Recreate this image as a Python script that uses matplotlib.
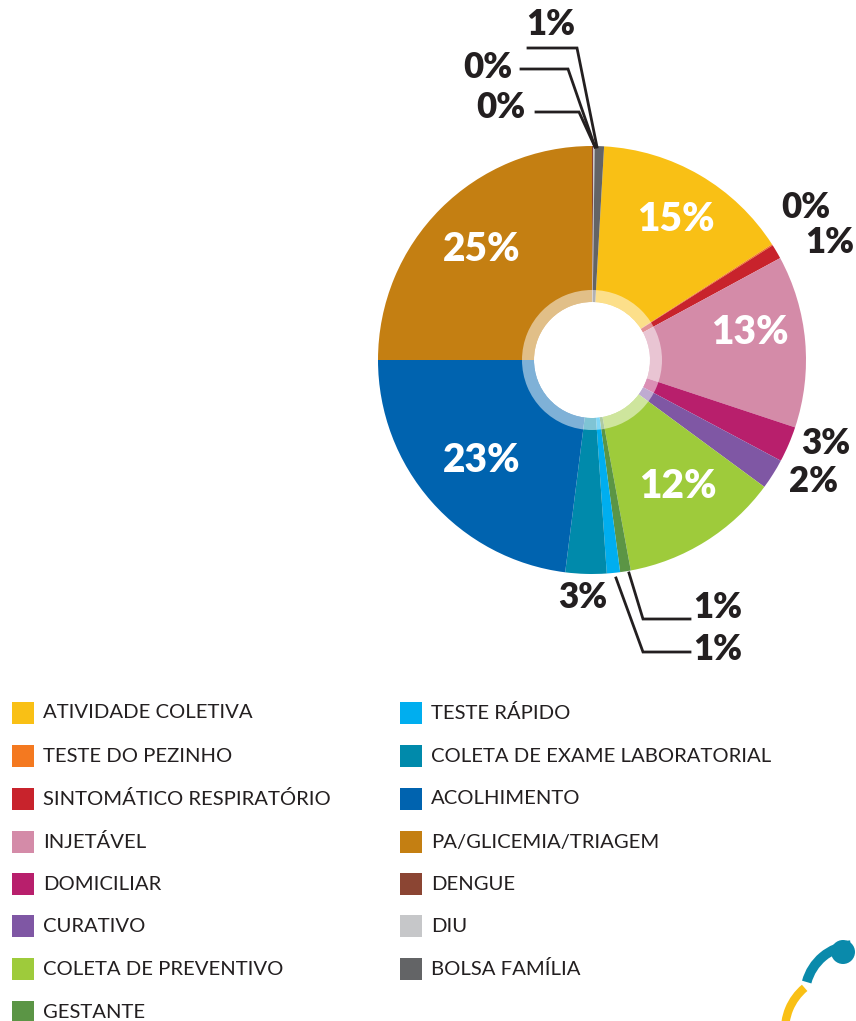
import matplotlib.pyplot as plt
from matplotlib.patches import Wedge, Rectangle, Circle, Arc

plt.rcParams['font.family'] = ['Lato', 'DejaVu Sans']

# data
labels = ['ATIVIDADE COLETIVA', 'TESTE DO PEZINHO', 'SINTOMÁTICO RESPIRATÓRIO',
          'INJETÁVEL', 'DOMICILIAR', 'CURATIVO', 'COLETA DE PREVENTIVO',
          'GESTANTE', 'TESTE RÁPIDO', 'COLETA DE EXAME LABORATORIAL',
          'ACOLHIMENTO', 'PA/GLICEMIA/TRIAGEM', 'DENGUE', 'DIU', 'BOLSA FAMÍLIA']
values = [15.0, 0.1, 1.1, 13.0, 2.7, 2.3, 12.0, 0.8, 1.0, 3.1, 23.0, 25.0, 0.1, 0.1, 0.7]
colors = ['#F9C015', '#F47920', '#C8232C', '#D48BA8', '#B81F6C', '#7F57A4',
          '#9ECB3B', '#5B9545', '#00AEEF', '#008AAB', '#0063AF', '#C47F12',
          '#8B4533', '#C6C7C9', '#636466']

W, H = 856, 1021
TXT = '#231F20'

fig = plt.figure(figsize=(W / 100, H / 100), dpi=100)
ax = fig.add_axes([0, 0, 1, 1])

cx, cy = 592, H - 360
R = 214
total = sum(values)
start = 90 - 360 * sum(values[-3:]) / total

ax.pie(values, colors=colors, startangle=start, counterclock=False,
       center=(cx, cy), radius=R,
       wedgeprops=dict(width=R - 58, linewidth=0))
# light ring around the hole
ax.add_patch(Wedge((cx, cy), 70, 0, 360, width=12, facecolor='white',
                   alpha=0.5, linewidth=0))

pct = [f"{round(v / total * 100)}%" for v in values]

# labels inside (white)
inside = {0: (676, 220), 3: (750, 333), 6: (678, 486), 10: (482, 460), 11: (482, 250)}
for i, (x, y) in inside.items():
    ax.text(x, H - y, pct[i], color='white', fontsize=28, fontweight='heavy',
            ha='center', va='center')

# labels outside (dark)
outside = {1: (806, 208), 2: (830, 243), 4: (826, 444), 5: (814, 482),
           9: (583, 597), 7: (718, 607), 8: (718, 650),
           14: (551, 25), 13: (488, 68), 12: (501, 108)}
for i, (x, y) in outside.items():
    ax.text(x, H - y, pct[i], color=TXT, fontsize=25, fontweight='heavy',
            ha='center', va='center')

# leader lines
leaders = [
    [(629, 573), (643, 619), (690, 619)],
    [(616, 578), (643, 652), (690, 652)],
    [(597, 147), (577, 48), (528, 48)],
    [(595, 147), (568, 69), (521, 69)],
    [(595, 147), (579, 112), (536, 112)],
]
for pts in leaders:
    ax.plot([p[0] for p in pts], [H - p[1] for p in pts], color=TXT, lw=2,
            solid_joinstyle='miter')

# legend
rows = [713, 756, 799, 842, 884, 926, 969, 1012]
for i, lab in enumerate(labels):
    col, row = divmod(i, 8)
    x0 = 12 if col == 0 else 400
    y = rows[row]
    ax.add_patch(Rectangle((x0, H - y - 11), 22, 22, facecolor=colors[i], linewidth=0))
    ax.text(x0 + 31, H - y, lab, color=TXT, fontsize=14.6, va='center', ha='left')

# logo fragment
ax.add_patch(Circle((843, H - 952), 12, facecolor='#0A8AAB', linewidth=0))
ax.add_patch(Arc((855, H - 995), 100, 100, theta1=95, theta2=165,
                 color='#0A8AAB', lw=7))
ax.add_patch(Arc((840, H - 1030), 110, 110, theta1=130, theta2=185,
                 color='#F9C015', lw=6))

ax.set_xlim(0, W)
ax.set_ylim(0, H)
ax.set_aspect('equal')
ax.axis('off')

plt.savefig('out.png', dpi=100)
